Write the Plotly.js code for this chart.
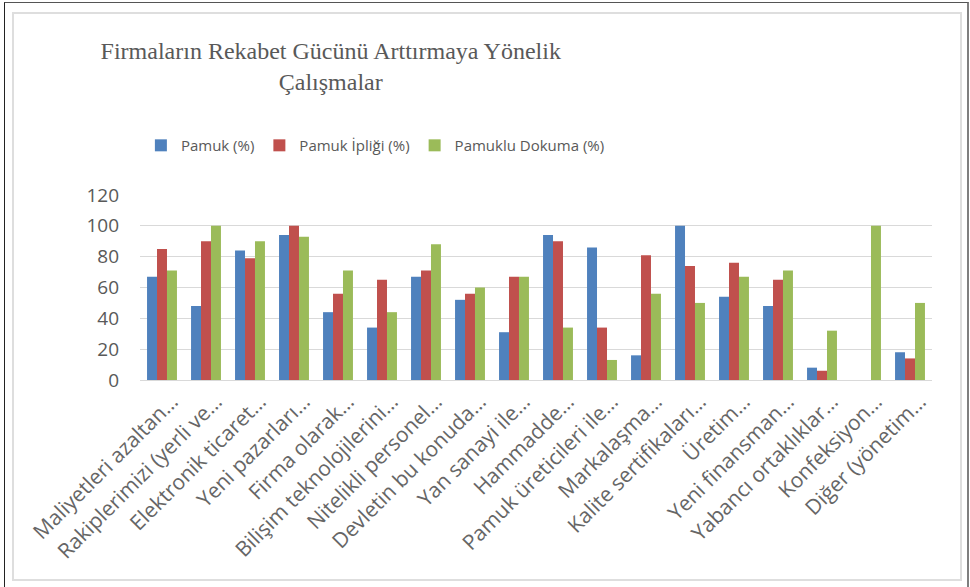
<!DOCTYPE html>
<html>
<head>
<meta charset="utf-8">
<script src="https://cdn.plot.ly/plotly-3.0.1.min.js"></script>
<style>
  html, body { margin: 0; padding: 0; background: #fff; }
  #wrap { position: relative; width: 970px; height: 587px; overflow: hidden; }
  #chart { position: absolute; left: 0; top: 0; width: 970px; height: 587px; }
  .frame { position: absolute; pointer-events: none; }
</style>
</head>
<body>
<div id="wrap">
  <div id="chart"></div>
  <div class="frame" style="left:4px; top:2px; width:962px; height:600px; border-left:1px solid #222; border-top:1px solid #555; border-right:2px solid #7f7f7f;"></div>
  <div class="frame" style="left:12px; top:12px; width:946px; height:565px; border:2px solid #dedede;"></div>
</div>
<script>
const categories = [
  "Maliyetleri azaltan…",
  "Rakiplerimizi (yerli ve…",
  "Elektronik ticaret…",
  "Yeni pazarları…",
  "Firma olarak…",
  "Bilişim teknolojilerini…",
  "Nitelikli personel…",
  "Devletin bu konuda…",
  "Yan sanayi ile…",
  "Hammadde…",
  "Pamuk üreticileri ile…",
  "Markalaşma…",
  "Kalite sertifikaları…",
  "Üretim…",
  "Yeni finansman…",
  "Yabancı ortaklıklar…",
  "Konfeksiyon…",
  "Diğer (yönetim…"
];
const seriesNames = ["Pamuk (%)", "Pamuk İpliği (%)", "Pamuklu Dokuma (%)"];
const pamuk        = [67, 48, 84, 94, 44, 34, 67, 52, 31, 94, 86, 16, 100, 54, 48, 8, null, 18];
const pamukIpligi  = [85, 90, 79, 100, 56, 65, 71, 56, 67, 90, 34, 81, 74, 76, 65, 6, null, 14];
const pamukluDokuma= [71, 100, 90, 93, 71, 44, 88, 60, 67, 34, 13, 56, 50, 67, 71, 32, 100, 50];
const yTicks = [0, 20, 40, 60, 80, 100, 120];
const colors = ["#4F81BD", "#C0504D", "#9BBB59"];

const values = [pamuk, pamukIpligi, pamukluDokuma];
const data = values.map((v, i) => ({
  type: "bar",
  name: seriesNames[i],
  x: categories,
  y: v,
  marker: { color: colors[i] },
  hoverinfo: "x+y+name"
}));

const layout = {
  width: 970,
  height: 587,
  paper_bgcolor: "#ffffff",
  plot_bgcolor: "#ffffff",
  margin: { l: 140, r: 38, t: 195, b: 207, autoexpand: false },
  font: { family: "Open Sans, sans-serif", color: "#595959" },
  title: {
    text: "Firmaların Rekabet Gücünü Arttırmaya Yönelik<br>Çalışmalar",
    font: { family: "Liberation Serif, Times New Roman, serif", size: 24, color: "#595959" },
    xref: "container", x: 0.341, xanchor: "center",
    yref: "container", y: 0.899, yanchor: "top"
  },
  showlegend: true,
  legend: {
    orientation: "h",
    xref: "container", x: 0.387, xanchor: "center",
    yref: "container", y: 0.752, yanchor: "middle",
    font: { size: 15, color: "#595959" },
    traceorder: "normal"
  },
  barmode: "group",
  bargap: 0.32,
  bargroupgap: 0,
  xaxis: {
    type: "category",
    tickangle: -45,
    tickfont: { size: 21, color: "#666666" },
    ticklabelshift: 10,
    showline: true,
    linecolor: "#d9d9d9",
    linewidth: 1,
    showgrid: false,
    ticks: "",
    automargin: false
  },
  yaxis: {
    range: [0, 120],
    tickvals: yTicks,
    ticktext: yTicks.map(String),
    tickfont: { size: 19, color: "#595959" },
    showgrid: true,
    gridcolor: "#d9d9d9",
    gridwidth: 1,
    zeroline: false,
    showline: false,
    ticks: "",
    ticklabelstandoff: 20,
    automargin: false
  }
};

Plotly.newPlot("chart", data, layout, { displayModeBar: false, staticPlot: true });
</script>
</body>
</html>
